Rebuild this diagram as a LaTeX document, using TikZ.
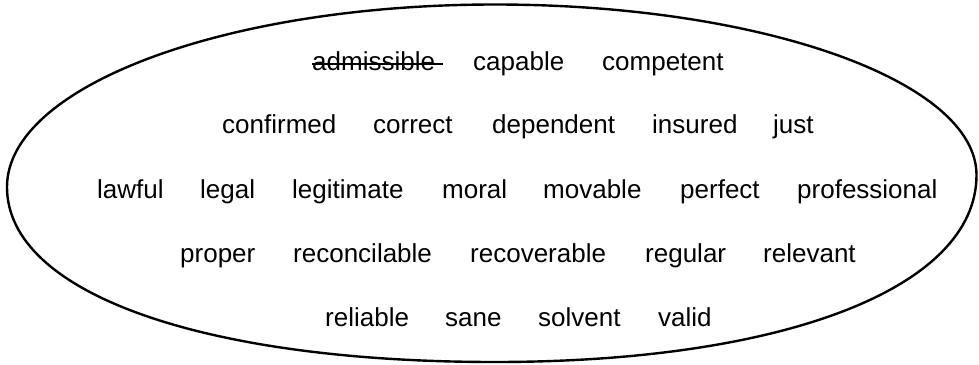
\documentclass[tikz,border=0pt]{standalone}
\usepackage{fontspec}
\setmainfont{Liberation Sans}
\begin{document}
\begin{tikzpicture}[x=1pt,y=-1pt,
  word/.style={anchor=base west,inner sep=0pt,font=\fontsize{26}{30}\selectfont},
  outline/.style={line width=2.4pt,line join=round}]
\useasboundingbox (0,0) rectangle (979,364);
% oval outline
\coordinate (L) at (7,187);
\coordinate (T) at (495,4.5);
\coordinate (R) at (976.5,175);
\coordinate (B) at (495,362);
\draw[outline] (L) .. controls (7,86) and (226,4.5) .. (T)
  .. controls (761,4.5) and (976.5,81) .. (R)
  .. controls (976.5,288) and (784,362) .. (B)
  .. controls (202,362) and (7,293) .. (L) -- cycle;
% row 1
\node[word] (w1) at (312,70) {admissible};
\node[word] (w2) at (473,70) {capable};
\node[word] (w3) at (602,70) {competent};
\coordinate (s1) at (312,63.5);
\coordinate (s2) at (443,63.5);
\draw[line width=2pt] (s1) -- (s2);
% row 2
\node[word] (w4) at (222,133) {confirmed};
\node[word] (w5) at (373,133) {correct};
\node[word] (w6) at (492,133) {dependent};
\node[word] (w7) at (652,133) {insured};
\node[word] (w8) at (773,133) {just};
% row 3
\node[word] (w9) at (97,198) {lawful};
\node[word] (w10) at (200,198) {legal};
\node[word] (w11) at (292,198) {legitimate};
\node[word] (w12) at (442,198) {moral};
\node[word] (w13) at (543,198) {movable};
\node[word] (w14) at (680,198) {perfect};
\node[word] (w15) at (797,198) {professional};
% row 4
\node[word] (w16) at (180,262) {proper};
\node[word] (w17) at (293,262) {reconcilable};
\node[word] (w18) at (470,262) {recoverable};
\node[word] (w19) at (645,262) {regular};
\node[word] (w20) at (763,262) {relevant};
% row 5
\node[word] (w21) at (325,326) {reliable};
\node[word] (w22) at (445,326) {sane};
\node[word] (w23) at (538,326) {solvent};
\node[word] (w24) at (658,326) {valid};
\end{tikzpicture}
\end{document}
